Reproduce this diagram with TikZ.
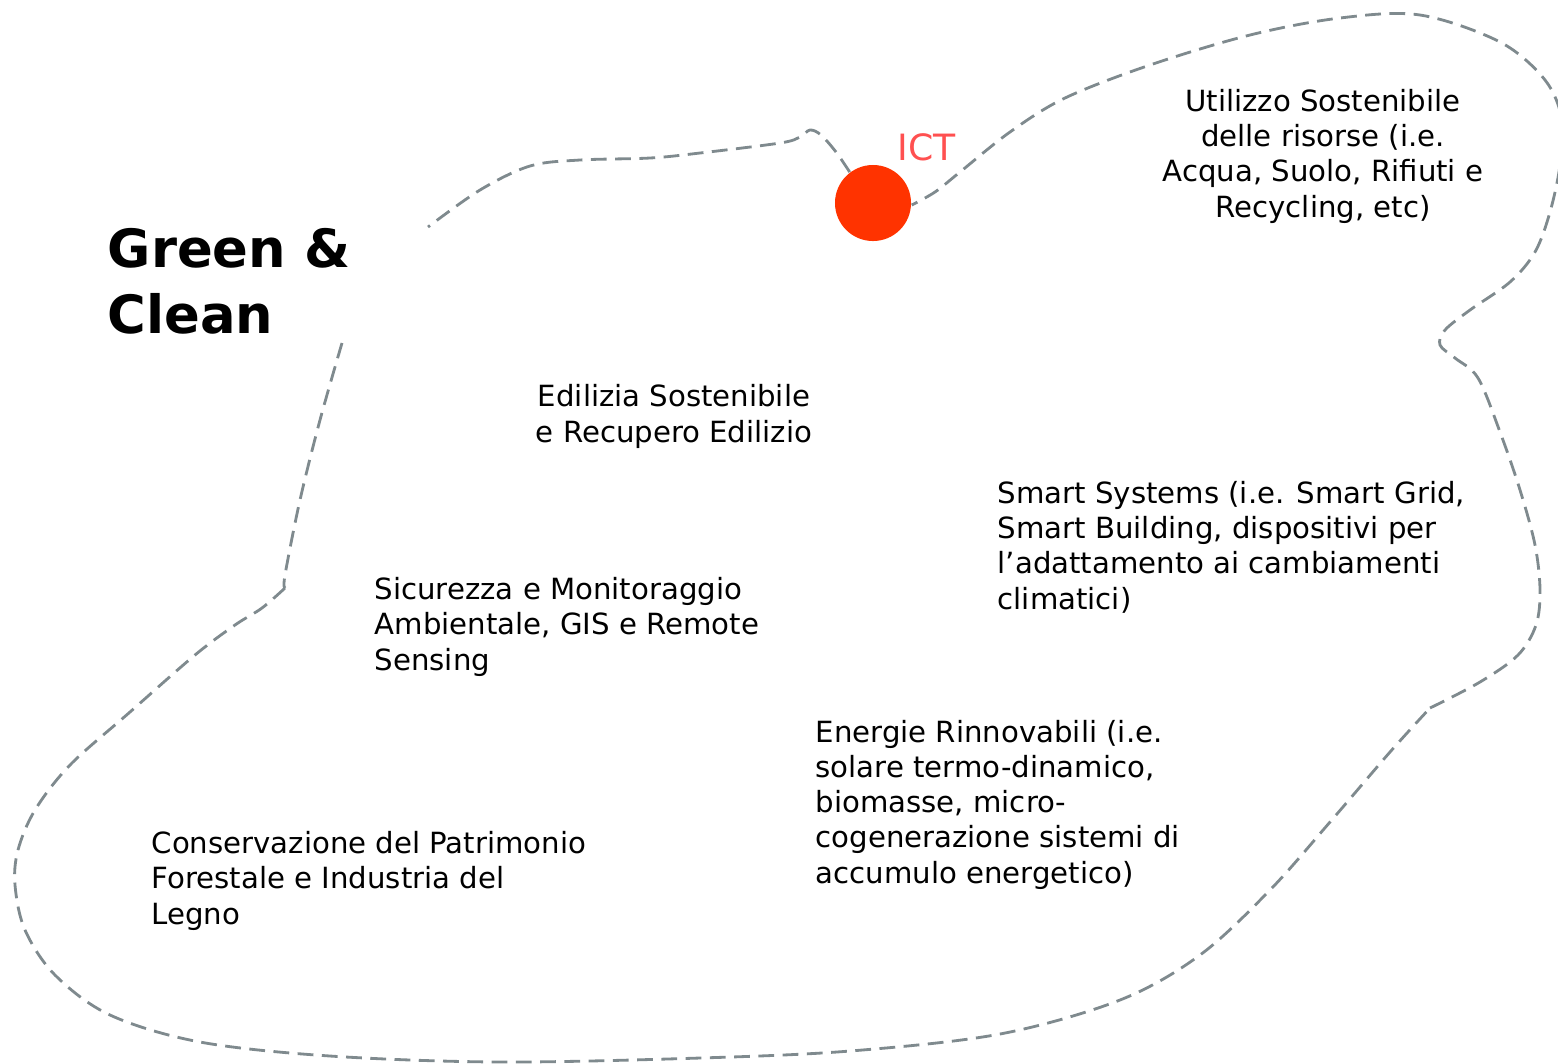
\documentclass[tikz,border=0pt]{standalone}
\usepackage{fontspec}
\setmainfont{DejaVu Sans}
\definecolor{linegray}{HTML}{7F8A8E}
\definecolor{dotred}{HTML}{FF3300}
\definecolor{ictlabel}{HTML}{FF5050}
\tikzset{
  body/.style={font=\fontsize{8.3}{9.96}\selectfont, inner sep=0pt, text=black},
  blobline/.style={draw=linegray, line width=0.8pt, dash pattern=on 4.5pt off 2.4pt, line cap=butt},
}
\begin{document}
\begin{tikzpicture}[x={(0.01cm,0)}, y={(0,-0.01cm)}]
\useasboundingbox (0,0) rectangle (1558,1063);
% ICT dot
\node[circle, fill=dotred, minimum size=0.76cm, inner sep=0pt] (ict) at (873,203) {};
\node[anchor=base west, inner sep=0pt, text=ictlabel, font=\fontsize{10.3}{12}\selectfont] (ictlbl) at (897,160) {ICT};
% dashed outline
\draw[blobline] plot[smooth, tension=0.55] coordinates {(342,343) (320,420) (300,500) (285,575) (285,588)};
\draw[blobline] plot[smooth, tension=0.55] coordinates {(285,588) (262,608) (235,625) (195,655) (130,712) (70,765) (35,810) (18,850) (15,885) (25,930) (55,975) (110,1015) (200,1042) (330,1056) (500,1062) (700,1058) (850,1051) (1000,1034) (1120,1000) (1200,955) (1270,890) (1330,822) (1390,752) (1430,708)};
\draw[blobline] plot[smooth, tension=0.55] coordinates {(1430,708) (1480,682) (1518,655) (1536,625) (1540,590) (1535,545) (1520,490) (1500,432) (1478,378) (1455,358) (1440,345) (1445,330) (1470,310) (1510,282) (1535,252) (1550,212) (1560,165) (1562,120) (1545,80) (1500,42) (1420,15) (1340,18) (1250,35) (1150,65) (1065,98) (1010,132) (960,172) (935,192) (ict.-3)};
\draw[blobline] plot[smooth, tension=0.55] coordinates {(ict.127) (836,152) (821,135) (810,130) (800,137) (780,143) (700,153) (650,158) (580,160) (530,166) (480,190) (428,227)};
% title (base anchor = last line baseline)
\node[anchor=base west, inner sep=0pt, align=left, font=\fontsize{15}{18.5}\selectfont\bfseries] (title) at (107,333) {Green \&\\Clean};
% texts
\node[body, anchor=base, align=center] (util) at (1323,217) {Utilizzo Sostenibile\\delle risorse (i.e.\\Acqua, Suolo, Rifiuti e\\Recycling, etc)};
\node[body, anchor=base, align=center] (edil) at (674,442) {Edilizia Sostenibile\\e Recupero Edilizio};
\node[body, anchor=base west, align=left] (smart) at (997,609) {Smart Systems (i.e. Smart Grid,\\Smart Building, dispositivi per\\l’adattamento ai cambiamenti\\climatici)};
\node[body, anchor=base west, align=left] (sicur) at (374,670) {Sicurezza e Monitoraggio\\Ambientale, GIS e Remote\\Sensing};
\node[body, anchor=base west, align=left] (energ) at (815,883) {Energie Rinnovabili (i.e.\\solare termo-dinamico,\\biomasse, micro-\\cogenerazione sistemi di\\accumulo energetico)};
\node[body, anchor=base west, align=left] (cons) at (151,924) {Conservazione del Patrimonio\\Forestale e Industria del\\Legno};
\end{tikzpicture}
\end{document}
